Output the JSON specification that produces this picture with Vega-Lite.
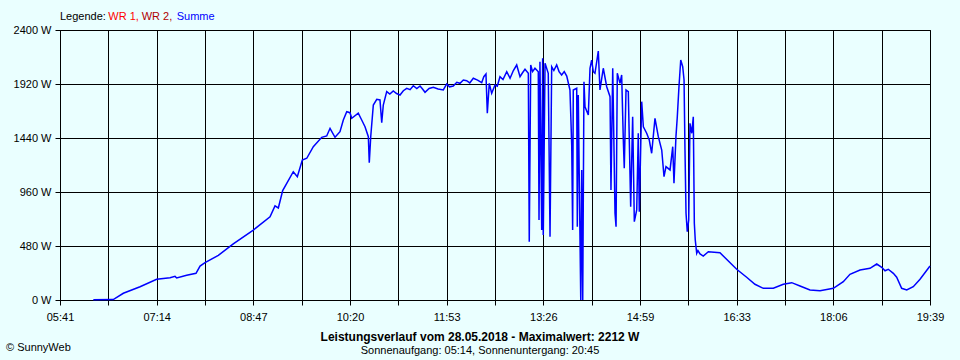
{
  "$schema": "https://vega.github.io/schema/vega-lite/v6.json",
  "width": 870,
  "height": 270,
  "autosize": {"type": "none"},
  "padding": {"left": 60, "top": 30, "right": 30, "bottom": 60},
  "background": "#EAFFFF",
  "config": {
    "view": {"stroke": "black", "strokeWidth": 1},
    "font": "Liberation Sans",
    "axis": {
      "labelFont": "Liberation Sans",
      "labelFontSize": 11,
      "labelColor": "black",
      "grid": true,
      "gridColor": "black",
      "gridOpacity": 1,
      "gridWidth": 1,
      "domainColor": "black",
      "tickColor": "black",
      "tickSize": 5,
      "title": null
    }
  },
  "title": {
    "text": "Leistungsverlauf vom 28.05.2018 - Maximalwert: 2212 W",
    "subtitle": "Sonnenaufgang: 05:14, Sonnenuntergang: 20:45",
    "orient": "bottom",
    "anchor": "middle",
    "frame": "group",
    "dx": -15,
    "offset": -21,
    "font": "Liberation Sans",
    "fontSize": 12,
    "fontWeight": "bold",
    "color": "black",
    "subtitleFont": "Liberation Sans",
    "subtitleFontSize": 11,
    "subtitleColor": "black",
    "subtitlePadding": 1
  },
  "datasets": {
    "power": [
      {"t": 373.4, "w": 3}, {"t": 391.1, "w": 4}, {"t": 392.6, "w": 4},
      {"t": 402.3, "w": 60}, {"t": 418.4, "w": 118}, {"t": 434.4, "w": 184},
      {"t": 447.3, "w": 198}, {"t": 452.1, "w": 210}, {"t": 453.7, "w": 196},
      {"t": 463.3, "w": 220}, {"t": 472.3, "w": 237}, {"t": 476.2, "w": 302},
      {"t": 481.0, "w": 332}, {"t": 493.8, "w": 397}, {"t": 508.2, "w": 498},
      {"t": 527.5, "w": 622}, {"t": 543.6, "w": 740}, {"t": 548.4, "w": 836},
      {"t": 551.6, "w": 818}, {"t": 555.8, "w": 972}, {"t": 566.0, "w": 1140},
      {"t": 569.9, "w": 1096}, {"t": 574.7, "w": 1244}, {"t": 579.0, "w": 1260},
      {"t": 585.3, "w": 1363}, {"t": 593.4, "w": 1446}, {"t": 598.2, "w": 1458},
      {"t": 601.4, "w": 1526}, {"t": 606.2, "w": 1446}, {"t": 611.0, "w": 1496},
      {"t": 614.2, "w": 1600}, {"t": 617.5, "w": 1674}, {"t": 620.6, "w": 1665},
      {"t": 622.3, "w": 1615}, {"t": 628.6, "w": 1660}, {"t": 631.9, "w": 1600},
      {"t": 635.1, "w": 1540}, {"t": 638.3, "w": 1452}, {"t": 639.2, "w": 1220},
      {"t": 640.6, "w": 1452}, {"t": 643.1, "w": 1733}, {"t": 646.4, "w": 1784},
      {"t": 649.5, "w": 1778}, {"t": 651.2, "w": 1576}, {"t": 652.7, "w": 1733},
      {"t": 656.0, "w": 1852}, {"t": 659.0, "w": 1830}, {"t": 662.3, "w": 1858},
      {"t": 665.5, "w": 1835}, {"t": 668.8, "w": 1822},
      {"t": 672.0, "w": 1860}, {"t": 675.3, "w": 1882}, {"t": 678.5, "w": 1870},
      {"t": 681.6, "w": 1905}, {"t": 685.0, "w": 1880}, {"t": 688.1, "w": 1902},
      {"t": 690.5, "w": 1875}, {"t": 692.9, "w": 1846}, {"t": 696.8, "w": 1880},
      {"t": 700.9, "w": 1891}, {"t": 705.5, "w": 1875}, {"t": 710.5, "w": 1867},
      {"t": 713.8, "w": 1920}, {"t": 716.5, "w": 1895}, {"t": 720.1, "w": 1902},
      {"t": 723.5, "w": 1935}, {"t": 726.6, "w": 1926}, {"t": 729.8, "w": 1955},
      {"t": 733.0, "w": 1949}, {"t": 736.0, "w": 1930}, {"t": 739.4, "w": 1971}, {"t": 743.5, "w": 1955}, {"t": 747.5, "w": 1932},
      {"t": 749.5, "w": 1985}, {"t": 751.6, "w": 2009}, {"t": 752.9, "w": 1660}, {"t": 754.8, "w": 1926},
      {"t": 757.1, "w": 1837}, {"t": 760.3, "w": 1911}, {"t": 762.5, "w": 1900}, {"t": 765.1, "w": 1985},
      {"t": 768.0, "w": 1960}, {"t": 771.6, "w": 2029}, {"t": 774.8, "w": 1971}, {"t": 778.0, "w": 2040}, {"t": 781.2, "w": 2089},
      {"t": 784.4, "w": 1985}, {"t": 786.8, "w": 2020}, {"t": 789.2, "w": 2051}, {"t": 792.4, "w": 2015},
      {"t": 793.3, "w": 518}, {"t": 794.7, "w": 2089}, {"t": 796.5, "w": 2030}, {"t": 798.8, "w": 2060},
      {"t": 802.0, "w": 2029}, {"t": 802.7, "w": 711}, {"t": 803.6, "w": 2118},
      {"t": 805.3, "w": 622}, {"t": 806.2, "w": 2148}, {"t": 806.8, "w": 578},
      {"t": 808.5, "w": 2104}, {"t": 811.6, "w": 2015}, {"t": 813.3, "w": 563},
      {"t": 814.9, "w": 2074}, {"t": 817.0, "w": 2040}, {"t": 819.7, "w": 2089}, {"t": 822.0, "w": 2030}, {"t": 824.5, "w": 2000},
      {"t": 827.0, "w": 2030}, {"t": 829.4, "w": 1991}, {"t": 832.5, "w": 1867}, {"t": 834.2, "w": 1378},
      {"t": 835.1, "w": 622}, {"t": 835.7, "w": 1867}, {"t": 839.0, "w": 1882},
      {"t": 839.6, "w": 652}, {"t": 840.5, "w": 1822}, {"t": 842.9, "w": 0},
      {"t": 843.8, "w": 1156}, {"t": 844.8, "w": 0}, {"t": 846.0, "w": 1940},
      {"t": 847.0, "w": 1718}, {"t": 850.2, "w": 1644}, {"t": 851.8, "w": 2060},
      {"t": 853.4, "w": 2133}, {"t": 855.0, "w": 2029}, {"t": 856.6, "w": 2015},
      {"t": 859.8, "w": 2212}, {"t": 861.4, "w": 1867}, {"t": 864.6, "w": 2060},
      {"t": 867.9, "w": 1896}, {"t": 871.1, "w": 1807}, {"t": 872.0, "w": 978},
      {"t": 873.7, "w": 2060}, {"t": 875.9, "w": 771}, {"t": 876.9, "w": 652},
      {"t": 878.1, "w": 2015}, {"t": 880.7, "w": 1926}, {"t": 882.3, "w": 2000},
      {"t": 883.9, "w": 1422}, {"t": 884.8, "w": 1171}, {"t": 886.5, "w": 1867},
      {"t": 888.7, "w": 1852}, {"t": 891.0, "w": 829}, {"t": 892.9, "w": 1629},
      {"t": 894.5, "w": 696}, {"t": 896.8, "w": 800}, {"t": 898.3, "w": 1482},
      {"t": 899.3, "w": 785}, {"t": 901.6, "w": 1763}, {"t": 903.2, "w": 1540},
      {"t": 906.4, "w": 1482}, {"t": 908.9, "w": 1422}, {"t": 911.2, "w": 1304},
      {"t": 914.4, "w": 1615}, {"t": 917.6, "w": 1452}, {"t": 920.9, "w": 1333},
      {"t": 923.1, "w": 1096}, {"t": 925.0, "w": 1185}, {"t": 928.9, "w": 1156},
      {"t": 931.5, "w": 1363}, {"t": 932.7, "w": 1037}, {"t": 934.6, "w": 1452},
      {"t": 935.9, "w": 1629}, {"t": 937.5, "w": 1896}, {"t": 939.2, "w": 2133},
      {"t": 941.1, "w": 2074}, {"t": 942.4, "w": 1956}, {"t": 943.3, "w": 1333},
      {"t": 944.3, "w": 771}, {"t": 945.5, "w": 607}, {"t": 946.9, "w": 711},
      {"t": 948.1, "w": 1571}, {"t": 949.8, "w": 1482}, {"t": 951.3, "w": 1629},
      {"t": 952.3, "w": 682}, {"t": 953.2, "w": 533}, {"t": 954.6, "w": 415},
      {"t": 955.8, "w": 440}, {"t": 957.8, "w": 410}, {"t": 960.9, "w": 391},
      {"t": 965.8, "w": 429}, {"t": 977.0, "w": 420}, {"t": 993.1, "w": 273},
      {"t": 1002.7, "w": 202}, {"t": 1010.7, "w": 140}, {"t": 1018.7, "w": 104},
      {"t": 1028.4, "w": 104}, {"t": 1038.0, "w": 140}, {"t": 1046.1, "w": 154},
      {"t": 1054.1, "w": 124}, {"t": 1063.7, "w": 89}, {"t": 1073.4, "w": 83},
      {"t": 1086.2, "w": 104}, {"t": 1095.8, "w": 163}, {"t": 1102.2, "w": 228},
      {"t": 1111.9, "w": 267}, {"t": 1121.5, "w": 282}, {"t": 1128.0, "w": 320},
      {"t": 1132.8, "w": 291}, {"t": 1136.0, "w": 260}, {"t": 1139.1, "w": 273},
      {"t": 1144.0, "w": 237}, {"t": 1147.2, "w": 202}, {"t": 1152.0, "w": 104},
      {"t": 1156.9, "w": 89}, {"t": 1163.2, "w": 118}, {"t": 1169.7, "w": 184},
      {"t": 1179.3, "w": 302}
    ],
    "notes": [
      {"text": "Legende:", "role": "Legende", "t": 341.3, "w": 2493},
      {"text": "WR 1,", "role": "WR 1", "t": 387.8, "w": 2493},
      {"text": "WR 2,", "role": "WR 2", "t": 420.0, "w": 2493},
      {"text": "Summe", "role": "Summe", "t": 453.7, "w": 2493},
      {"text": "© SunnyWeb", "role": "Legende", "t": 289.3, "w": -453}
    ]
  },
  "layer": [
    {
      "data": {"name": "power"},
      "mark": {"type": "line", "color": "#0000FF", "strokeWidth": 1.5, "interpolate": "linear"},
      "encoding": {
        "x": {
          "field": "t",
          "type": "quantitative",
          "scale": {"domain": [341.3, 1179.3], "nice": false, "zero": false},
          "axis": {
            "values": [341.3, 387.86, 434.41, 480.97, 527.52, 574.08, 620.63, 667.19, 713.74, 760.3, 806.86, 853.41, 899.97, 946.52, 993.08, 1039.63, 1086.19, 1132.74, 1179.3],
            "labelExpr": "round((datum.value - 341.3) / 46.5556) % 2 == 1 ? '' : (floor(datum.value / 60) < 10 ? '0' : '') + floor(datum.value / 60) + ':' + (floor(datum.value % 60) < 10 ? '0' : '') + floor(datum.value % 60)",
            "labelPadding": 6,
            "labelFlush": false,
            "labelOverlap": false
          }
        },
        "y": {
          "field": "w",
          "type": "quantitative",
          "scale": {"domain": [0, 2400], "nice": false},
          "axis": {
            "values": [0, 480, 960, 1440, 1920, 2400],
            "labelExpr": "datum.value + ' W'",
            "labelPadding": 4
          }
        }
      }
    },
    {
      "data": {"name": "notes"},
      "mark": {"type": "text", "align": "left", "baseline": "alphabetic", "fontSize": 11, "font": "Liberation Sans"},
      "encoding": {
        "x": {"field": "t", "type": "quantitative"},
        "y": {"field": "w", "type": "quantitative"},
        "text": {"field": "text"},
        "color": {
          "field": "role",
          "type": "nominal",
          "scale": {"domain": ["Legende", "WR 1", "WR 2", "Summe"], "range": ["#000000", "#FF0000", "#B00000", "#0000FF"]},
          "legend": null
        }
      }
    }
  ]
}
